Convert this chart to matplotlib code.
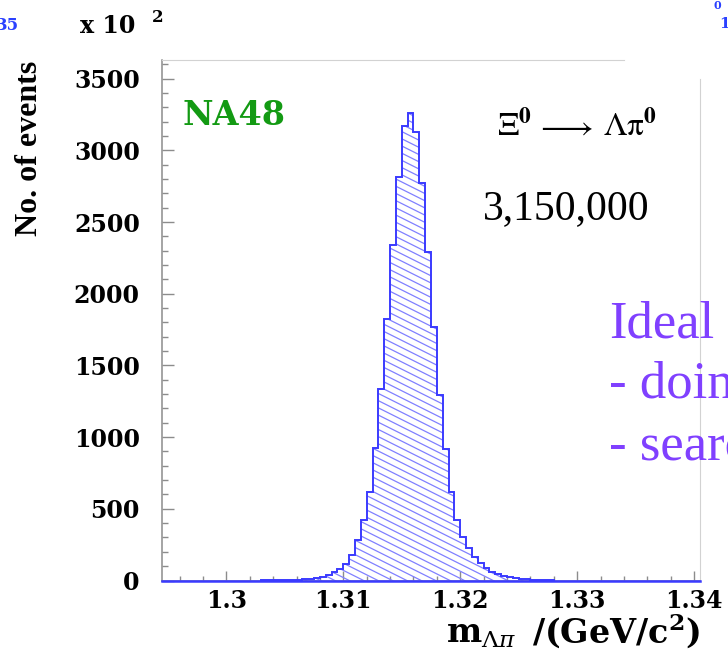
import matplotlib
matplotlib.use("Agg")
import numpy as np
import matplotlib.pyplot as plt
from matplotlib.ticker import FixedLocator, MultipleLocator
from matplotlib.collections import LineCollection

# ---- data: Lambda-pi0 invariant mass histogram ----
bin_start = 1.3030          # GeV/c^2, lower edge of first bin
bin_width = 0.0005          # GeV/c^2
counts = [1, 1, 2, 2, 3, 4, 6, 8, 12, 18,
          26, 38, 56, 82, 115, 178, 282, 422, 619, 922,
          1333, 1821, 2340, 2816, 3169, 3262, 3125, 2772, 2293, 1768,
          1293, 915, 619, 422, 300, 225, 165, 120, 85, 60,
          42, 30, 21, 14, 10, 7, 5, 3, 2, 1]
x_ticks = [1.30, 1.31, 1.32, 1.33, 1.34]
x_tick_labels = ["1.3", "1.31", "1.32", "1.33", "1.34"]
y_ticks = [0, 500, 1000, 1500, 2000, 2500, 3000, 3500]
y_tick_labels = ["0", "500", "1000", "1500", "2000", "2500", "3000", "3500"]
n_events = "3,150,000"

edges = bin_start + bin_width * np.arange(len(counts) + 1)

W, H, DPI = 728, 665, 100
fig = plt.figure(figsize=(W / DPI, H / DPI), dpi=DPI)
fig.patch.set_facecolor("white")


def fx(px):
    return px / W


def fy(py):
    return 1.0 - py / H


# axes box in pixels
AX_L, AX_R, AX_T, AX_B = 162, 700, 60, 580.5
ax = fig.add_axes([fx(AX_L), fy(AX_B), (AX_R - AX_L) / W, (AX_B - AX_T) / H])
ax.set_xlim(1.2945, 1.3405)
ax.set_ylim(0, 3630)

blue = "#3a3aff"
hatch_blue = "#8080ff"
grey = "#8c8c8c"
light = "#d2d2d2"

# filled region used as clip path for the hatching
fill_patch = ax.stairs(counts, edges, baseline=0, fill=True,
                       facecolor="none", edgecolor="none")

# diagonal hatching, drawn in axes coordinates
aw, ah = AX_R - AX_L, AX_B - AX_T
slope, gap = 0.5, 7.2
segs = []
c = 0.0
while c < ah + slope * aw + gap:
    segs.append([(0.0, c / ah), (1.0, (c - slope * aw) / ah)])
    c += gap
hatch = LineCollection(segs, colors=hatch_blue, linewidths=0.9,
                       transform=ax.transAxes, zorder=2)
hatch.set_clip_path(fill_patch)
ax.add_collection(hatch)

# histogram outline
ax.stairs(counts, edges, baseline=0, fill=False, color=blue,
          linewidth=1.4, zorder=3)
ax.axhline(0, color=blue, linewidth=1.8, zorder=4, clip_on=False)

# frame
for side in ("left", "bottom"):
    ax.spines[side].set_color(grey)
    ax.spines[side].set_linewidth(1.1)
ax.spines["top"].set_color(light)
ax.spines["right"].set_color(light)
ax.spines["top"].set_bounds(1.2945, 1.3340)
ax.spines["right"].set_bounds(0, 3500)

# ticks
ax.xaxis.set_major_locator(FixedLocator(x_ticks))
ax.set_xticklabels(x_tick_labels)
ax.xaxis.set_minor_locator(MultipleLocator(0.002))
ax.yaxis.set_major_locator(FixedLocator(y_ticks))
ax.set_yticklabels(y_tick_labels)
ax.yaxis.set_minor_locator(MultipleLocator(100))
ax.tick_params(axis="both", which="both", direction="in", color=grey,
               top=False, right=False, width=1)
ax.tick_params(axis="y", which="major", length=8.6, pad=16, labelsize=17)
ax.tick_params(axis="y", which="minor", length=4.3)
ax.tick_params(axis="x", which="major", length=7.2, pad=6, labelsize=17)
ax.tick_params(axis="x", which="minor", length=3.6)
for lbl in ax.get_xticklabels() + ax.get_yticklabels():
    lbl.set_fontfamily("DejaVu Serif")
    lbl.set_fontweight("bold")

# axis titles and multiplier
fig.text(fx(30), fy(148), "No. of events", rotation=90, ha="center",
         va="center", family="Liberation Serif", weight="bold", size=23)
fig.text(fx(446), fy(643), r"$\mathbf{m}_{\Lambda\pi}$", ha="left",
         va="baseline", size=24, math_fontfamily="dejavuserif")
fig.text(fx(532), fy(643), r"$\mathbf{/(GeV/c^{2})}$", ha="left",
         va="baseline", size=24, math_fontfamily="dejavuserif")
fig.text(fx(80), fy(33), "x 10", family="DejaVu Serif", weight="bold",
         size=17, va="baseline")
fig.text(fx(152), fy(22), "2", family="DejaVu Serif", weight="bold",
         size=12, va="baseline")

# in-plot annotations
fig.text(fx(183), fy(125), "NA48", color="#139a13", family="DejaVu Serif",
         weight="bold", size=24, va="baseline")
fig.text(fx(497), fy(136), r"$\Xi^{\mathbf{0}}$", size=24, va="baseline",
         math_fontfamily="stix")
fig.text(fx(536), fy(136), r"$\longrightarrow$", size=24, va="baseline",
         math_fontfamily="stix")
fig.text(fx(603), fy(136), r"$\mathrm{\Lambda\pi}^{\mathbf{0}}$", size=24,
         va="baseline", math_fontfamily="stix")
fig.text(fx(483), fy(219), n_events, family="Liberation Serif", size=30,
         va="baseline")

# slide text running in from the right
purple = "#8040ff"
for txt, base in (("Ideal", 337), ("- doing", 398), ("- search", 459)):
    fig.text(fx(609), fy(base), txt, family="Liberation Serif", size=38,
             color=purple, va="baseline")

# fragments of neighbouring slide labels
fig.text(fx(-4), fy(30), "35", family="DejaVu Serif", weight="bold",
         size=12, color="#2a40ff", va="baseline")
fig.text(fx(713), fy(9), "0", family="DejaVu Serif", weight="bold",
         size=8, color="#2a40ff", va="baseline")
fig.text(fx(719), fy(28), "1", family="DejaVu Serif", weight="bold",
         size=11, color="#2a40ff", va="baseline")

fig.savefig("out.png", dpi=DPI, facecolor="white")
